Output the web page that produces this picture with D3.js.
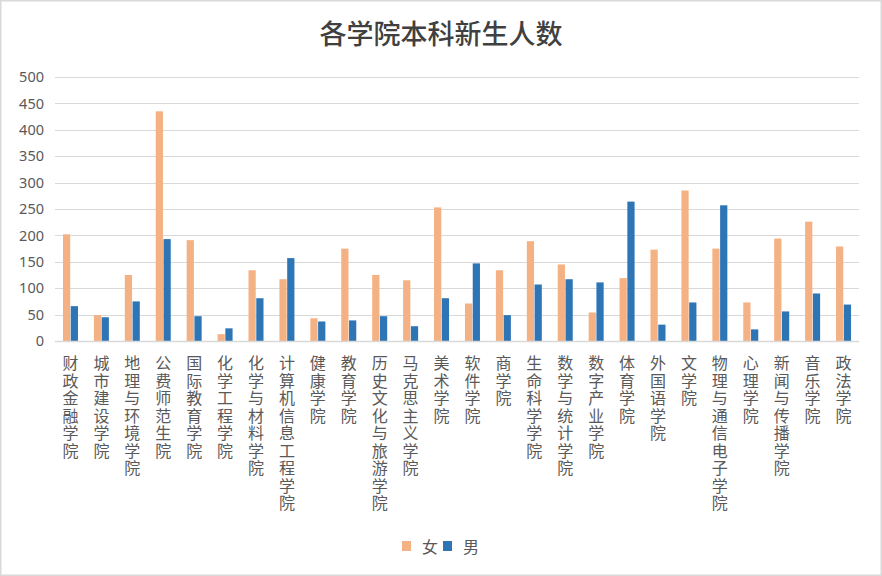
<!DOCTYPE html>
<html>
<head>
<meta charset="utf-8">
<script src="https://cdn.jsdelivr.net/npm/d3@7"></script>
<style>
  body { margin: 0; background: #fff; }
  svg { display: block; font-family: "Noto Sans CJK SC", "DejaVu Sans", sans-serif; }
</style>
</head>
<body>
<div id="chart"></div>
<script>
// Data
const colleges = [
  '财政金融学院', '城市建设学院', '地理与环境学院', '公费师范生院', '国际教育学院',
  '化学工程学院', '化学与材料学院', '计算机信息工程学院', '健康学院', '教育学院',
  '历史文化与旅游学院', '马克思主义学院', '美术学院', '软件学院', '商学院',
  '生命科学学院', '数学与统计学院', '数字产业学院', '体育学院', '外国语学院',
  '文学院', '物理与通信电子学院', '心理学院', '新闻与传播学院', '音乐学院', '政法学院'
];
const female = [202, 49, 125, 435, 191, 13, 134, 117, 43, 175, 125, 115, 253, 71, 134,
  189, 145, 54, 119, 173, 285, 175, 73, 194, 226, 179];
const male = [66, 45, 75, 193, 47, 24, 81, 157, 37, 39, 47, 28, 81, 147, 49,
  107, 117, 111, 264, 31, 73, 257, 22, 56, 90, 69];
const seriesNames = ['女', '男'];
const yTicks = [0, 50, 100, 150, 200, 250, 300, 350, 400, 450, 500];

const width = 882;
const height = 576;
const margin = { top: 77, right: 23, bottom: 235, left: 55 };
const colors = { '女': '#F4B183', '男': '#2E75B6' };
const TEXT_COLOR = '#595959';

const svg = d3.select('#chart')
  .append('svg')
  .attr('width', width)
  .attr('height', height);

// Outer chart border
svg.append('rect')
  .attr('x', 0.75).attr('y', 0.75)
  .attr('width', width - 1.5).attr('height', height - 1.5)
  .attr('fill', '#fff')
  .attr('stroke', '#d9d9d9')
  .attr('stroke-width', 1.5);

// Title
svg.append('text')
  .attr('x', width / 2)
  .attr('y', 32)
  .attr('text-anchor', 'middle')
  .attr('dominant-baseline', 'central')
  .style('font-size', '27px')
  .style('font-weight', '500')
  .style('fill', '#404040')
  .text('各学院本科新生人数');

// Scales
const x = d3.scaleBand()
  .domain(colleges)
  .range([margin.left, width - margin.right])
  .padding(0);

const xInner = d3.scaleBand()
  .domain(seriesNames)
  .range([0, 15])
  .paddingInner(0.07);

const y = d3.scaleLinear()
  .domain([0, 500])
  .range([height - margin.bottom, margin.top]);

// Gridlines
svg.append('g')
  .selectAll('line')
  .data(yTicks.filter(d => d > 0))
  .join('line')
  .attr('x1', margin.left)
  .attr('x2', width - margin.right)
  .attr('y1', d => Math.round(y(d)) + 0.5)
  .attr('y2', d => Math.round(y(d)) + 0.5)
  .attr('stroke', '#d9d9d9')
  .attr('stroke-width', 1);

// Y axis labels
const yAxis = svg.append('g')
  .attr('transform', `translate(${margin.left},0)`)
  .call(d3.axisLeft(y).tickValues(yTicks).tickSize(0).tickPadding(11));
yAxis.select('.domain').remove();
yAxis.selectAll('text')
  .style('font-family', '"Noto Sans", "DejaVu Sans", sans-serif')
  .style('font-size', '14.5px')
  .style('fill', TEXT_COLOR);

// Bars
const rows = colleges.map((c, i) => ({ college: c, values: [
  { key: '女', value: female[i] },
  { key: '男', value: male[i] }
] }));

const center = x.bandwidth() / 2 - 7.5;
svg.append('g')
  .selectAll('g')
  .data(rows)
  .join('g')
  .attr('transform', d => `translate(${x(d.college) + center},0)`)
  .selectAll('rect')
  .data(d => d.values)
  .join('rect')
  .attr('x', d => xInner(d.key))
  .attr('width', xInner.bandwidth())
  .attr('y', d => y(d.value))
  .attr('height', d => y(0) - y(d.value))
  .attr('fill', d => colors[d.key]);

// Baseline
svg.append('line')
  .attr('x1', margin.left)
  .attr('x2', width - margin.right)
  .attr('y1', y(0) + 0.5)
  .attr('y2', y(0) + 0.5)
  .attr('stroke', '#d9d9d9')
  .attr('stroke-width', 1.5);

// Vertical category labels
svg.append('g')
  .selectAll('text')
  .data(colleges)
  .join('text')
  .attr('x', d => x(d) + x.bandwidth() / 2)
  .attr('y', 355)
  .style('writing-mode', 'vertical-rl')
  .style('text-orientation', 'upright')
  .style('letter-spacing', '1.5px')
  .style('font-size', '16px')
  .style('fill', TEXT_COLOR)
  .text(d => d);

// Legend
const legend = svg.append('g')
  .attr('transform', 'translate(402,546)');
const legendItems = legend.selectAll('g')
  .data(seriesNames)
  .join('g')
  .attr('transform', (d, i) => `translate(${i * 41},0)`);
legendItems.append('rect')
  .attr('x', 0).attr('y', -5)
  .attr('width', 9).attr('height', 10)
  .attr('fill', d => colors[d]);
legendItems.append('text')
  .attr('x', 20)
  .attr('y', 0)
  .attr('dominant-baseline', 'central')
  .style('font-size', '16px')
  .style('fill', TEXT_COLOR)
  .text(d => d);
</script>
</body>
</html>
